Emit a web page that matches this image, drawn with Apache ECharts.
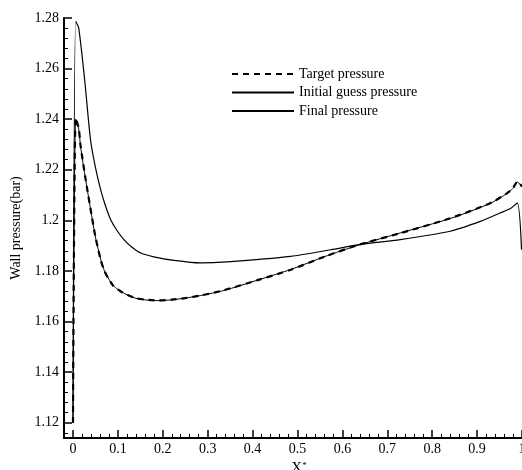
<!DOCTYPE html>
<html>
<head>
<meta charset="utf-8">
<script src="https://cdn.jsdelivr.net/npm/echarts@6/dist/echarts.min.js"></script>
<style>
html,body{margin:0;padding:0;background:#fff;}
#main{width:522px;height:470px;}
</style>
</head>
<body>
<div id="main"></div>
<script>
// ---- data (x*, wall pressure in bar) ----
var targetX = [0, 0.006, 0.0127, 0.0171, 0.0283, 0.0432, 0.05, 0.0617, 0.07, 0.0802, 0.09, 0.10, 0.11, 0.121, 0.14, 0.16, 0.188, 0.22, 0.25, 0.284, 0.336, 0.411, 0.485, 0.559, 0.637, 0.730, 0.841, 0.930, 0.967, 0.980, 0.990, 1.0];
var targetY = [1.12, 1.2405, 1.2365, 1.2293, 1.2161, 1.2003, 1.1935, 1.1845, 1.1800, 1.1766, 1.1741, 1.1727, 1.1715, 1.1706, 1.1693, 1.1687, 1.1684, 1.1687, 1.1693, 1.1703, 1.1724, 1.1764, 1.1805, 1.1856, 1.1904, 1.1950, 1.2009, 1.2069, 1.2108, 1.2128, 1.2154, 1.2134];

var initialX = [0, 0.006, 0.0127, 0.026, 0.039, 0.05, 0.0617, 0.072, 0.084, 0.098, 0.1135, 0.13, 0.151, 0.18, 0.225, 0.284, 0.343, 0.485, 0.574, 0.637, 0.729, 0.840, 0.907, 0.951, 0.975, 0.9895, 0.999];
var initialY = [1.12, 1.2787, 1.2761, 1.2556, 1.2319, 1.2210, 1.2121, 1.2060, 1.2003, 1.1960, 1.1924, 1.1896, 1.1871, 1.1856, 1.1842, 1.1832, 1.1836, 1.1858, 1.1884, 1.1904, 1.1924, 1.1957, 1.1996, 1.2029, 1.2048, 1.2069, 1.1884];

var finalX = [0, 0.006, 0.0127, 0.0171, 0.0283, 0.0432, 0.05, 0.0617, 0.07, 0.0802, 0.09, 0.10, 0.11, 0.121, 0.14, 0.16, 0.188, 0.22, 0.25, 0.284, 0.336, 0.411, 0.485, 0.559, 0.637, 0.730, 0.841, 0.930, 0.967, 0.980, 0.990, 1.0];
var finalY = [1.12, 1.2400, 1.2362, 1.2290, 1.2160, 1.2002, 1.1934, 1.1846, 1.1801, 1.1767, 1.1742, 1.1727, 1.1716, 1.1705, 1.1692, 1.1686, 1.1683, 1.1686, 1.1693, 1.1703, 1.1723, 1.1764, 1.1806, 1.1856, 1.1903, 1.1951, 1.2008, 1.2068, 1.2107, 1.2127, 1.2152, 1.2132];

var seriesNames = ['Target pressure', 'Initial guess pressure', 'Final pressure'];

// ---- axes / ticks ----
var xTicks = [0, 0.1, 0.2, 0.3, 0.4, 0.5, 0.6, 0.7, 0.8, 0.9, 1];
var xMinorTicks = [-0.02, 0.02, 0.04, 0.06, 0.08, 0.12, 0.14, 0.16, 0.18, 0.22, 0.24, 0.26, 0.28, 0.32, 0.34, 0.36, 0.38, 0.42, 0.44, 0.46, 0.48, 0.52, 0.54, 0.56, 0.58, 0.62, 0.64, 0.66, 0.68, 0.72, 0.74, 0.76, 0.78, 0.82, 0.84, 0.86, 0.88, 0.92, 0.94, 0.96, 0.98];
var yTicks = [1.12, 1.14, 1.16, 1.18, 1.2, 1.22, 1.24, 1.26, 1.28];
var yMinorTicks = [1.116, 1.124, 1.128, 1.132, 1.136, 1.144, 1.148, 1.152, 1.156, 1.164, 1.168, 1.172, 1.176, 1.184, 1.188, 1.192, 1.196, 1.204, 1.208, 1.212, 1.216, 1.224, 1.228, 1.232, 1.236, 1.244, 1.248, 1.252, 1.256, 1.264, 1.268, 1.272, 1.276];
var xMin = -0.02, xMax = 1.0, yMin = 1.114, yMax = 1.28;

function pairs(xs, ys) {
  var out = [];
  for (var i = 0; i < xs.length; i++) out.push([xs[i], ys[i]]);
  return out;
}

var FONT = 'Liberation Serif';
var chart = echarts.init(document.getElementById('main'), null, {renderer: 'canvas'});

var option = {
  animation: false,
  backgroundColor: '#ffffff',
  grid: {left: 64, top: 18, right: 0, bottom: 32, containLabel: false, outerBoundsMode: 'none'},
  legend: {
    data: seriesNames,
    orient: 'vertical',
    left: 231,
    top: 67,
    padding: 0,
    itemWidth: 62,
    itemHeight: 14,
    itemGap: 4.5,
    itemStyle: {opacity: 0},
    textStyle: {fontFamily: FONT, fontSize: 14, color: '#000'},
    inactiveColor: '#000'
  },
  xAxis: [{
    type: 'value', min: xMin, max: xMax, position: 'bottom',
    name: '{a|X}{b|*}',
    nameLocation: 'middle', nameGap: 23,
    nameTextStyle: {
      verticalAlign: 'middle',
      padding: [0, 0, 0, 12],
      rich: {
        a: {fontFamily: FONT, fontSize: 15, lineHeight: 15, color: '#000'},
        b: {fontFamily: FONT, fontSize: 9, lineHeight: 15, color: '#000', verticalAlign: 'top'}
      }
    },
    splitLine: {show: false},
    axisLine: {show: true, onZero: false, lineStyle: {color: '#000', width: 2}},
    axisTick: {show: true, inside: true, length: 8, customValues: xTicks, lineStyle: {color: '#000', width: 1.5}},
    axisLabel: {show: true, customValues: xTicks, margin: 4, fontFamily: FONT, fontSize: 14, color: '#000'}
  }, {
    type: 'value', min: xMin, max: xMax, position: 'bottom',
    splitLine: {show: false},
    axisLine: {show: false, onZero: false},
    axisTick: {show: true, inside: true, length: 4, customValues: xMinorTicks, lineStyle: {color: '#000', width: 1}},
    axisLabel: {show: false}
  }],
  yAxis: [{
    type: 'value', min: yMin, max: yMax, position: 'left',
    name: 'Wall pressure(bar)',
    nameLocation: 'middle', nameGap: 36,
    nameTextStyle: {fontFamily: FONT, fontSize: 14, color: '#000'},
    splitLine: {show: false},
    axisLine: {show: true, onZero: false, lineStyle: {color: '#000', width: 2}},
    axisTick: {show: true, inside: true, length: 8, customValues: yTicks, lineStyle: {color: '#000', width: 1.5}},
    axisLabel: {show: true, customValues: yTicks, margin: 5, fontFamily: FONT, fontSize: 14, color: '#000'}
  }, {
    type: 'value', min: yMin, max: yMax, position: 'left',
    splitLine: {show: false},
    axisLine: {show: false, onZero: false},
    axisTick: {show: true, inside: true, length: 4, customValues: yMinorTicks, lineStyle: {color: '#000', width: 1}},
    axisLabel: {show: false}
  }],
  series: [{
    name: seriesNames[0], type: 'line', data: pairs(targetX, targetY),
    showSymbol: false, symbol: 'none', smooth: 0.25,
    lineStyle: {color: '#000', width: 2.2, type: [6, 5]},
    itemStyle: {color: '#000'}
  }, {
    name: seriesNames[1], type: 'line', data: pairs(initialX, initialY),
    showSymbol: false, symbol: 'none', smooth: 0.25,
    lineStyle: {color: '#000', width: 1.2, type: 'solid'},
    itemStyle: {color: '#000'}
  }, {
    name: seriesNames[2], type: 'line', data: pairs(finalX, finalY),
    showSymbol: false, symbol: 'none', smooth: 0.25,
    lineStyle: {color: '#000', width: 1, type: 'solid'},
    itemStyle: {color: '#000'}
  }]
};
chart.setOption(option);
</script>
</body>
</html>
